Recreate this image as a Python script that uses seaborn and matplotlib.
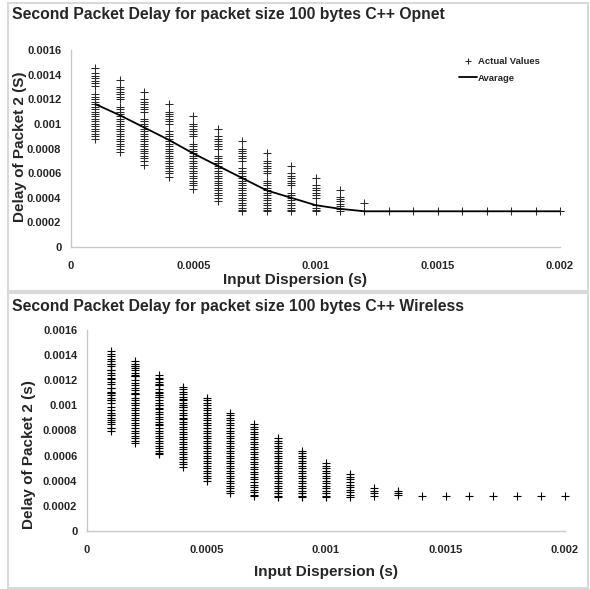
import matplotlib
matplotlib.use("Agg")
import matplotlib.pyplot as plt
import seaborn as sns
import pandas as pd
from matplotlib.lines import Line2D
from matplotlib.patches import Rectangle

# ---------------- data (delay values in units of 1e-5 s) ----------------
SCALE = 1e-5
x_values = [0.0001, 0.0002, 0.0003, 0.0004, 0.0005, 0.0006, 0.0007, 0.0008, 0.0009, 0.0010,
            0.0011, 0.0012, 0.0013, 0.0014, 0.0015, 0.0016, 0.0017, 0.0018, 0.0019, 0.0020]

# Opnet chart: actual values per input dispersion
op1 = [145, 141, 139, 137, 135, 133, 131, 124, 122, 120, 118, 116, 114, 112, 110, 108, 106, 104, 102, 100, 98, 96, 94, 92, 90, 88]
op2 = [136, 130, 128, 126, 124, 122, 120, 114, 112, 110, 108, 106, 104, 102, 100, 98, 96, 94, 92, 90, 88, 86, 84, 82, 80, 77]
op3 = [126, 120, 118, 116, 114, 112, 110, 104, 102, 100, 98, 96, 94, 92, 90, 88, 86, 84, 82, 80, 78, 76, 74, 72, 70, 67]
op4 = [116, 110, 108, 106, 104, 102, 100, 94, 92, 90, 88, 86, 84, 82, 80, 78, 76, 74, 72, 70, 68, 66, 64, 62, 60, 57]
op5 = [106, 100, 98, 96, 94, 92, 90, 84, 82, 80, 78, 76, 74, 72, 70, 68, 66, 64, 62, 60, 58, 56, 54, 52, 50, 47]
op6 = [96, 90, 88, 86, 84, 82, 80, 74, 72, 70, 68, 66, 64, 62, 60, 58, 56, 54, 52, 50, 48, 46, 44, 42, 40, 37]
op7 = [86, 80, 78, 76, 74, 72, 70, 64, 62, 60, 58, 56, 54, 52, 50, 48, 46, 44, 42, 40, 38, 36, 34, 32, 30, 29]
op8 = [76, 70, 68, 66, 64, 62, 60, 54, 52, 50, 48, 46, 44, 42, 40, 38, 36, 34, 32, 30, 29]
op9 = [66, 60, 58, 56, 54, 52, 50, 44, 42, 40, 38, 36, 34, 32, 30, 29]
op10 = [56, 50, 48, 46, 44, 42, 40, 34, 32, 30, 29]
op11 = [46, 41, 39, 37, 35, 33, 31, 29]
op12 = [36, 29]
op13 = [29]
op14 = [29]
op15 = [29]
op16 = [29]
op17 = [29]
op18 = [29]
op19 = [29]
op20 = [29]
opnet_avg = [116, 107, 97, 87, 76, 66, 56, 46, 40, 34, 31, 29, 29, 29, 29, 29, 29, 29, 29, 29]

# Wireless chart: actual values per input dispersion
wl1 = [143, 141, 139, 137, 135, 133, 133, 131, 128, 128, 126, 124, 122, 121, 119, 117, 114, 114, 111, 110, 110,
       108, 106, 104, 104, 102, 99, 96, 94, 92, 92, 90, 88, 87, 85, 82, 82, 80]
wl2 = [135, 133, 131, 131, 130, 128, 126, 124, 123, 123, 120, 118, 116, 114, 112, 110, 109, 109, 106, 104, 102, 102,
       100, 98, 96, 94, 92, 90, 88, 86, 84, 82, 80, 78, 76, 74, 72, 70]
wl3 = [124, 122, 121, 119, 117, 116, 116, 113, 111, 110, 108, 107, 107, 104, 102, 100, 100, 98, 97, 95, 93, 91, 89,
       87, 85, 84, 82, 80, 78, 76, 74, 72, 70, 68, 66, 64, 62, 61]
wl4 = [115, 113, 111, 109, 107, 105, 104, 102, 100, 99, 99, 96, 94, 92, 90, 89, 87, 85, 83, 81, 79, 77, 75, 73, 71,
       69, 67, 65, 63, 61, 59, 57, 55, 53, 51]
wl5 = [106, 104, 102, 100, 98, 96, 94, 92, 90, 88, 86, 84, 82, 80, 78, 76, 74, 72, 70, 68, 66, 64, 62, 60, 58, 56,
       54, 52, 50, 48, 46, 44, 42, 40]
wl6 = [94, 92, 90, 88, 86, 84, 82, 80, 78, 76, 74, 72, 70, 68, 66, 64, 62, 60, 58, 56, 54, 52, 50, 48, 46, 44, 42,
       40, 38, 36, 34, 32, 30]
wl7 = [85, 83, 81, 79, 77, 75, 73, 71, 69, 67, 65, 63, 61, 59, 57, 55, 53, 51, 49, 47, 45, 43, 41, 39, 37, 35, 33,
       31, 29, 28]
wl8 = [74, 72, 70, 68, 66, 64, 62, 60, 58, 56, 54, 52, 50, 48, 46, 44, 42, 40, 38, 36, 34, 32, 30, 28, 27]
wl9 = [64, 62, 60, 58, 56, 54, 52, 50, 48, 46, 44, 42, 40, 38, 36, 34, 32, 30, 28, 27]
wl10 = [54, 52, 50, 48, 46, 44, 42, 40, 38, 36, 34, 32, 30, 28, 27]
wl11 = [45, 43, 41, 39, 37, 35, 33, 31, 29, 27]
wl12 = [34, 32, 30, 28]
wl13 = [32, 30, 29]
wl14 = [28]
wl15 = [28]
wl16 = [28]
wl17 = [28]
wl18 = [28]
wl19 = [28]
wl20 = [28]

x_ticks = [0, 0.0005, 0.001, 0.0015, 0.002]
x_tick_labels = ["0", "0.0005", "0.001", "0.0015", "0.002"]
y_ticks = [0, 0.0002, 0.0004, 0.0006, 0.0008, 0.001, 0.0012, 0.0014, 0.0016]
y_tick_labels = ["0", "0.0002", "0.0004", "0.0006", "0.0008", "0.001", "0.0012", "0.0014", "0.0016"]

title_top = "Second Packet Delay for packet size 100 bytes C++ Opnet"
title_bottom = "Second Packet Delay for packet size 100 bytes C++ Wireless"

opnet_cols = [op1, op2, op3, op4, op5, op6, op7, op8, op9, op10,
              op11, op12, op13, op14, op15, op16, op17, op18, op19, op20]
wl_cols = [wl1, wl2, wl3, wl4, wl5, wl6, wl7, wl8, wl9, wl10,
           wl11, wl12, wl13, wl14, wl15, wl16, wl17, wl18, wl19, wl20]


def to_frame(cols):
    rows = []
    for xv, col in zip(x_values, cols):
        for v in col:
            rows.append({"x": xv, "y": v * SCALE})
    return pd.DataFrame(rows)


df_op = to_frame(opnet_cols)
df_wl = to_frame(wl_cols)
df_avg = pd.DataFrame({"x": x_values, "y": [v * SCALE for v in opnet_avg]})

# ---------------- style ----------------
sns.set_style("white")
plt.rcParams["font.family"] = ["Liberation Sans", "DejaVu Sans"]

W, H = 590, 589
fig = plt.figure(figsize=(W / 100, H / 100), dpi=100)


def fx(px):
    return px / W


def fy(py):
    return 1 - py / H


# panel frames
fig.add_artist(Rectangle((fx(8), fy(291)), fx(580), 288 / H, transform=fig.transFigure,
                         fill=False, ec="#d9d9d9", lw=1.5))
fig.add_artist(Rectangle((fx(8), fy(588)), fx(580), 295 / H, transform=fig.transFigure,
                         fill=False, ec="#d9d9d9", lw=1.5))

ax1 = fig.add_axes([fx(71), fy(247), fx(489), 197 / H])
ax2 = fig.add_axes([fx(87), fy(531), fx(478), 201 / H])

sns.scatterplot(data=df_op, x="x", y="y", marker="+", color="#2a2a2a", s=26, linewidth=0.75,
                ax=ax1, legend=False, clip_on=False, zorder=3)
sns.lineplot(data=df_avg, x="x", y="y", color="black", lw=1.3, ax=ax1, zorder=4)

sns.scatterplot(data=df_wl, x="x", y="y", marker="+", color="black", s=34, linewidth=0.8,
                ax=ax2, legend=False, clip_on=False, zorder=3)


def style(ax, xlabel, ylabel, xlab_pos, ylab_pos):
    ax.set_xlim(0, 0.002)
    ax.set_ylim(0, 0.0016)
    ax.set_xticks(x_ticks)
    ax.set_xticklabels(x_tick_labels)
    ax.set_yticks(y_ticks)
    ax.set_yticklabels(y_tick_labels)
    ax.tick_params(axis="both", length=0, labelsize=8)
    ax.tick_params(axis="x", pad=10)
    ax.tick_params(axis="y", pad=7)
    for lbl in ax.get_xticklabels() + ax.get_yticklabels():
        lbl.set_fontweight("bold")
    for s in ["top", "right"]:
        ax.spines[s].set_visible(False)
    for s in ["left", "bottom"]:
        ax.spines[s].set_color("#c8c8c8")
        ax.spines[s].set_linewidth(1.0)
    ax.set_xlabel(xlabel, fontsize=11, fontweight="bold")
    ax.set_ylabel(ylabel, fontsize=11, fontweight="bold")
    ax.xaxis.label.set_verticalalignment("center")
    ax.yaxis.label.set_verticalalignment("center")
    ax.xaxis.set_label_coords(*xlab_pos)
    ax.yaxis.set_label_coords(*ylab_pos)
    ax.grid(False)


style(ax1, "Input Dispersion (s)", "Delay of Packet 2 (S)",
      ((295 - 71) / 489, (247 - 280) / 197), ((20 - 71) / 489, (247 - 147) / 197))
style(ax2, "Input Dispersion (s)", "Delay of Packet 2 (s)",
      (0.5, (531 - 572) / 201), ((29 - 87) / 478, (531 - 455) / 201))

handles = [Line2D([], [], marker="+", ls="none", color="#2a2a2a", ms=5, mew=0.8),
           Line2D([], [], color="black", lw=1.3)]
ax1.legend(handles, ["Actual Values", "Avarage"], loc="upper left",
           bbox_to_anchor=(fx(459), fy(57)), bbox_transform=fig.transFigure,
           frameon=False, prop={"weight": "bold", "size": 6.8}, handlelength=1.9,
           handletextpad=0.1, labelspacing=0.8, borderaxespad=0, borderpad=0)

fig.text(fx(12), fy(15), title_top, fontsize=11.3, fontweight="bold", ha="left", va="center")
fig.text(fx(12), fy(306), title_bottom, fontsize=11.3, fontweight="bold", ha="left", va="center")

fig.savefig("out.png", dpi=100)
